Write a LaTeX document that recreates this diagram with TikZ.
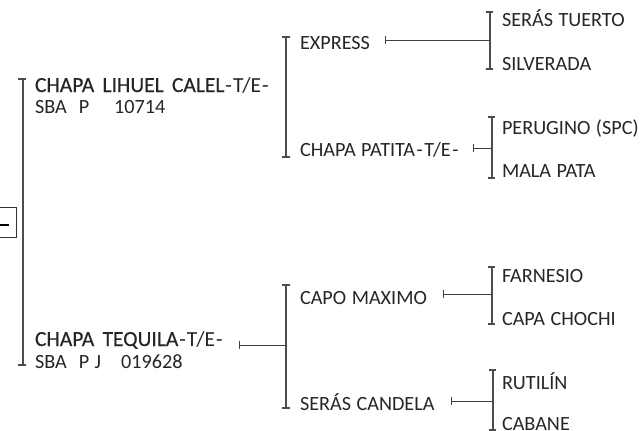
\documentclass[tikz,border=0pt]{standalone}
\usepackage{fontspec}
\setmainfont[WordSpace=1.2]{Carlito}
\newfontfamily\medfont[FakeBold=0.35,WordSpace=1.7]{Carlito}
\begin{document}
\begin{tikzpicture}[x=1pt,y=-1pt,
  lbl/.style={anchor=base west,inner sep=0pt,outer sep=0pt,text=black!85,font=\fontsize{20.2}{21}\selectfont},
  lblbig/.style={lbl,font=\fontsize{21.5}{22}\selectfont},
  brk/.style={draw=black!70,line width=1.3pt},
  tie/.style={draw=black!75,line width=1pt}]
\useasboundingbox (0,0) rectangle (640,431);
\fill[white] (0,0) rectangle (640,431);
% labels
\node[lblbig] (lihuel) at (35,92) {{\medfont CHAPA LIHUEL CALEL}\hspace{1pt}-\hspace{1pt}T/E\hspace{1pt}-};
\node[lbl] (lihuelb) at (35,113) {SBA\hspace{12pt}P\hspace{25pt}10714};
\node[lblbig] (tequila) at (35,346) {{\medfont CHAPA TEQUILA}\hspace{1pt}-\hspace{1pt}T/E\hspace{1pt}-};
\node[lbl] (tequilab) at (35,368) {SBA\hspace{12pt}P J\hspace{20pt}019628};
\node[lbl] (express) at (300,49) {EXPRESS};
\node[lbl] (patita) at (300,156) {CHAPA PATITA\hspace{1.5pt}-\hspace{1.5pt}T/E\hspace{1.5pt}-};
\node[lbl] (capo) at (300,304) {CAPO MAXIMO};
\node[lbl] (candela) at (300,410) {SERÁS CANDELA};
\node[lbl] (tuerto) at (502,27) {SERÁS TUERTO};
\node[lbl] (silverada) at (502,70) {SILVERADA};
\node[lbl] (perugino) at (502,134) {PERUGINO (SPC)};
\node[lbl] (mala) at (502,177) {MALA PATA};
\node[lbl] (farnesio) at (502,282) {FARNESIO};
\node[lbl] (chochi) at (502,325) {CAPA CHOCHI};
\node[lbl] (rutilin) at (502,389) {RUTILÍN};
\node[lbl] (cabane) at (502,430) {CABANE};
% clipped root box
\node[draw=black!80,line width=.9pt,minimum width=24pt,minimum height=30pt,inner sep=0pt] (root) at (4,222) {};
\draw[black,line width=2pt] (0,225) -- (9,225);
% main bracket
\coordinate (mt) at (23,79); \coordinate (mb) at (23,365);
\draw[brk] (mt) -- (mb);
\draw[brk] (18,79) -- (26,79);
\draw[brk] (18,365) -- (26,365);
% second-level brackets
\coordinate (at) at (286,37); \coordinate (ab) at (286,157);
\draw[brk] (at) -- (ab);
\draw[brk] (282,37) -- (290,37);
\draw[brk] (282,157) -- (290,157);
\coordinate (bt) at (286,285); \coordinate (bb) at (286,408);
\draw[brk] (bt) -- (bb);
\draw[brk] (282,285) -- (290,285);
\draw[brk] (282,408) -- (290,408);
\coordinate (bm) at (286,345); \coordinate (bs) at (239,345);
\draw[tie,|-] (bs) -- (bm);
% third-level brackets
\foreach \x/\t/\b/\m/\s in {490/12/69/40/385, 492/117/178/148/473, 492/267/324/294/443, 493/370/430/401/451}{
  \coordinate (t) at (\x,\t); \coordinate (b) at (\x,\b);
  \coordinate (m) at (\x,\m); \coordinate (s) at (\s,\m);
  \draw[brk] (t) -- (b);
  \draw[brk] (\x-4.5,\t) -- (\x+3,\t);
  \draw[brk] (\x-4.5,\b) -- (\x+3,\b);
  \draw[tie,|-] (s) -- (m);
}
\end{tikzpicture}
\end{document}
